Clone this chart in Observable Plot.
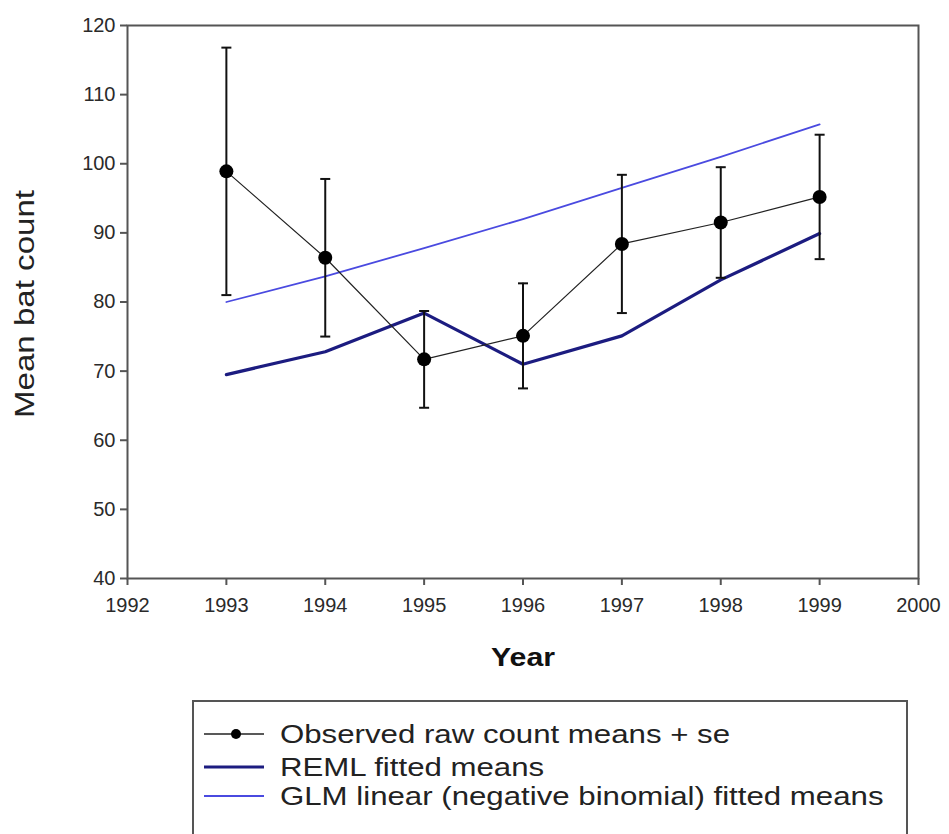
<!DOCTYPE html>
<html>
<head>
<meta charset="utf-8">
<script src="https://cdn.jsdelivr.net/npm/d3@7"></script>
<script src="https://cdn.jsdelivr.net/npm/@observablehq/plot@0.6"></script>
<style>
  body { margin: 0; background: #fff; font-family: "Liberation Sans", Arial, sans-serif; }
  #wrap { position: relative; width: 949px; height: 834px; overflow: hidden; }
  #legend { position: absolute; left: 192px; top: 700px; width: 716px; height: 160px;
            border: 2px solid #555; background: #fff; box-sizing: border-box; }
  .row { position: absolute; left: 10px; height: 34px; display: flex; align-items: center; }
  .row svg { margin-right: 16px; }
  .row span { font-size: 26px; color: #222; white-space: nowrap; display: inline-block;
              transform: scaleX(1.2); transform-origin: left center; }
</style>
</head>
<body>
<div id="wrap">
  <div id="chart"></div>
  <div id="legend"></div>
</div>
<script>
const years = [1993, 1994, 1995, 1996, 1997, 1998, 1999];
const observed = [98.9, 86.4, 71.7, 75.1, 88.4, 91.5, 95.2];
const se = [17.9, 11.4, 7.0, 7.6, 10.0, 8.0, 9.0];
const reml = [69.5, 72.8, 78.4, 71.0, 75.1, 83.2, 89.9];
const glm = [80.0, 83.7, 87.8, 92.0, 96.5, 101.0, 105.7];
const xTicks = [1992, 1993, 1994, 1995, 1996, 1997, 1998, 1999, 2000];
const yTicks = [40, 50, 60, 70, 80, 90, 100, 110, 120];
const yLabel = "Mean bat count";
const xLabel = "Year";
const legendLabels = ["Observed raw count means + se", "REML fitted means", "GLM linear (negative binomial) fitted means"];

const colObs = "#111";
const colReml = "#1c1c80";
const colGlm = "#4a4ae0";

const rows = years.map((year, i) => ({
  year, obs: observed[i], low: observed[i] - se[i], high: observed[i] + se[i],
  reml: reml[i], glm: glm[i]
}));

const capSymbol = {
  draw(ctx, size) {
    const w = Math.sqrt(size / Math.PI);
    ctx.moveTo(-w, 0);
    ctx.lineTo(w, 0);
  }
};

const plot = Plot.plot({
  width: 949,
  height: 680,
  marginLeft: 127,
  marginRight: 31,
  marginTop: 25,
  marginBottom: 102,
  style: { fontFamily: "'Liberation Sans', Arial, sans-serif", background: "#fff" },
  x: { domain: [1992, 2000] },
  y: { domain: [40, 120] },
  marks: [
    Plot.frame({ stroke: "#555", strokeWidth: 2 }),
    Plot.axisX({ ticks: xTicks, tickFormat: "d", tickSize: 7, tickPadding: 12, fontSize: 20, label: null, stroke: "#555", strokeWidth: 2, color: "#2a2a2a" }),
    Plot.axisY({ ticks: yTicks, tickSize: 7, tickPadding: 5, fontSize: 20, label: null, stroke: "#555", strokeWidth: 2, color: "#2a2a2a" }),
    Plot.text([yLabel], { frameAnchor: "left", dx: -102, dy: 2, rotate: -90, fontSize: 27, fill: "#222", textAnchor: "middle", lineAnchor: "middle", className: "ylab" }),
    Plot.text([xLabel], { frameAnchor: "bottom", dy: 79, fontSize: 25, fontWeight: "bold", fill: "#111", textAnchor: "middle", lineAnchor: "middle", className: "xlab" }),
    Plot.line(rows, { x: "year", y: "glm", stroke: colGlm, strokeWidth: 1.8 }),
    Plot.line(rows, { x: "year", y: "reml", stroke: colReml, strokeWidth: 3.2 }),
    Plot.line(rows, { x: "year", y: "obs", stroke: "#222", strokeWidth: 1.2 }),
    Plot.ruleX(rows, { x: "year", y1: "low", y2: "high", stroke: colObs, strokeWidth: 2 }),
    Plot.dot(rows, { x: "year", y: "high", r: 5, symbol: capSymbol, stroke: colObs, strokeWidth: 2 }),
    Plot.dot(rows, { x: "year", y: "low", r: 5, symbol: capSymbol, stroke: colObs, strokeWidth: 2 }),
    Plot.dot(rows, { x: "year", y: "obs", r: 7, fill: "#000", stroke: "none" })
  ]
});
// the reference's label type is slightly stretched along the reading direction
d3.select(plot).selectAll(".ylab text").attr("textLength", 228).attr("lengthAdjust", "spacingAndGlyphs");
d3.select(plot).selectAll(".xlab text").attr("textLength", 64).attr("lengthAdjust", "spacingAndGlyphs");
document.getElementById("chart").appendChild(plot);

// Legend
const legend = document.getElementById("legend");
const tops = [15, 48, 77];
const samples = [
  `<line x1="0" y1="10" x2="60" y2="10" stroke="#222" stroke-width="1.5"/><circle cx="32" cy="10" r="5" fill="#000"/>`,
  `<line x1="0" y1="10" x2="60" y2="10" stroke="${colReml}" stroke-width="3"/>`,
  `<line x1="0" y1="10" x2="60" y2="10" stroke="${colGlm}" stroke-width="1.8"/>`
];
legendLabels.forEach((lab, i) => {
  const row = document.createElement("div");
  row.className = "row";
  row.style.top = tops[i] + "px";
  row.innerHTML = `<svg width="60" height="20">${samples[i]}</svg><span>${lab}</span>`;
  legend.appendChild(row);
});
</script>
</body>
</html>
